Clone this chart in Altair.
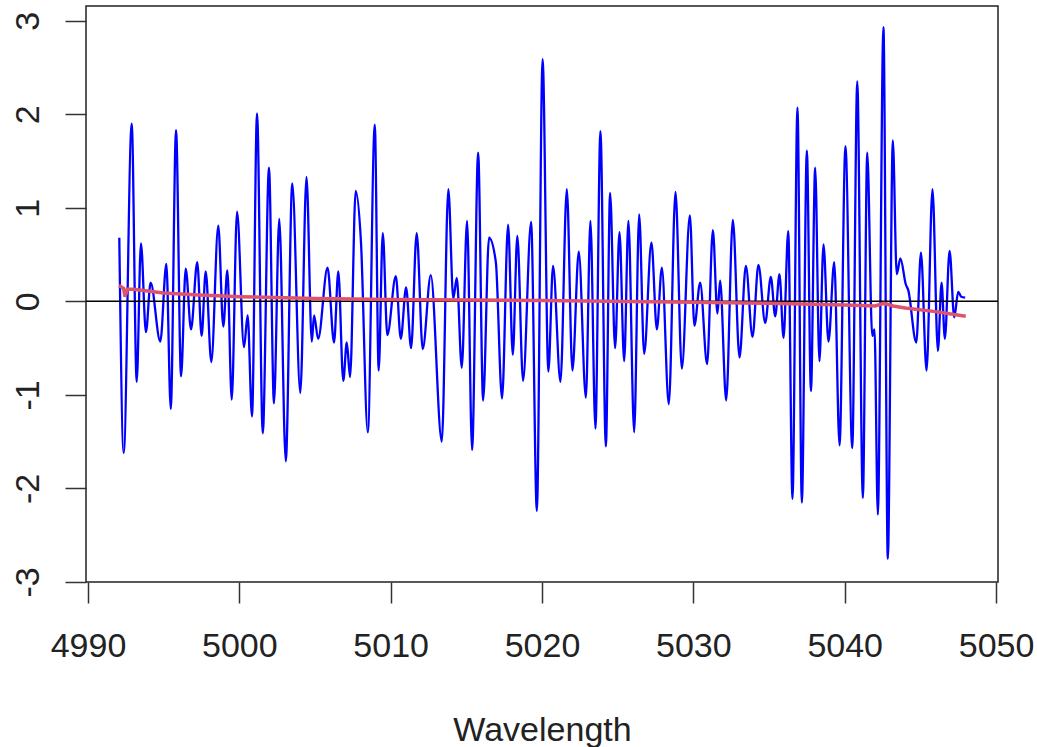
import altair as alt
import pandas as pd

# Blue spectrum: extrema (wavelength, value)
blue_x = [
    4992.07, 4992.36, 4992.89, 4993.22, 4993.50, 4993.83, 4994.14, 4994.78, 4995.18, 4995.47,
    4995.82, 4996.15, 4996.46, 4996.81, 4997.22, 4997.51, 4997.78, 4998.15, 4998.61, 4998.94,
    4999.21, 4999.50, 4999.85, 5000.31, 5000.55, 5000.84, 5001.17, 5001.55, 5001.96, 5002.29,
    5002.64, 5003.07, 5003.50, 5004.03, 5004.44, 5004.79, 5004.94, 5005.21, 5005.83, 5006.26,
    5006.54, 5006.87, 5007.10, 5007.32, 5007.69, 5008.04, 5008.49, 5008.95, 5009.21, 5009.48,
    5009.78, 5010.34, 5010.67, 5011.02, 5011.35, 5011.72, 5012.12, 5012.65, 5013.38, 5013.81,
    5014.14, 5014.37, 5014.70, 5015.05, 5015.38, 5015.78, 5016.11, 5016.50, 5016.95, 5017.36,
    5017.76, 5018.07, 5018.37, 5018.75, 5019.28, 5019.66, 5020.04, 5020.42, 5020.73, 5021.22,
    5021.64, 5022.01, 5022.43, 5022.90, 5023.20, 5023.53, 5023.86, 5024.22, 5024.50, 5024.83,
    5025.12, 5025.43, 5025.71, 5026.09, 5026.42, 5026.75, 5027.23, 5027.59, 5027.92, 5028.38,
    5028.82, 5029.24, 5029.77, 5030.07, 5030.45, 5030.91, 5031.29, 5031.59, 5031.77, 5032.17,
    5032.61, 5033.05, 5033.47, 5033.91, 5034.30, 5034.75, 5035.12, 5035.41, 5035.69, 5035.96,
    5036.27, 5036.55, 5036.88, 5037.17, 5037.50, 5037.77, 5038.05, 5038.33, 5038.60, 5038.93,
    5039.31, 5039.66, 5040.05, 5040.50, 5040.83, 5041.20, 5041.49, 5041.82, 5041.97, 5042.19,
    5042.56, 5042.85, 5043.18, 5043.44, 5043.68, 5044.04, 5044.20, 5044.73, 5045.04, 5045.41,
    5045.80, 5046.16, 5046.40, 5046.62, 5046.93, 5047.24, 5047.50, 5047.70, 5047.96,
]
blue_y = [
    0.68, -1.62, 1.90, -0.86, 0.62, -0.33, 0.20, -0.43, 0.40, -1.15,
    1.83, -0.80, 0.35, -0.30, 0.42, -0.37, 0.32, -0.65, 0.81, -0.27,
    0.33, -1.05, 0.96, -0.49, -0.15, -1.23, 2.01, -1.41, 1.43, -1.09,
    0.88, -1.71, 1.26, -0.98, 1.33, -0.43, -0.15, -0.40, 0.36, -0.44,
    0.32, -0.85, -0.44, -0.81, 1.18, 0.63, -1.40, 1.89, -0.74, 0.73,
    -0.36, 0.27, -0.40, 0.15, -0.50, 0.73, -0.51, 0.28, -1.50, 1.20,
    0.03, 0.25, -0.71, 0.86, -1.59, 1.59, -1.06, 0.68, 0.42, -1.04,
    0.82, -0.57, 0.70, -0.85, 0.85, -2.24, 2.59, -0.75, 0.38, -0.86,
    1.20, -0.74, 0.53, -1.03, 0.86, -1.36, 1.82, -1.55, 1.16, -0.50,
    0.74, -0.64, 0.86, -1.40, 0.93, -0.56, 0.63, -0.30, 0.36, -1.10,
    1.17, -0.72, 0.92, -0.26, 0.20, -0.67, 0.76, -0.13, 0.22, -1.06,
    0.87, -0.60, 0.38, -0.38, 0.39, -0.23, 0.26, -0.16, 0.29, -0.39,
    0.75, -2.11, 2.07, -2.15, 1.61, -0.96, 1.43, -0.64, 0.61, -0.43,
    0.42, -1.54, 1.66, -1.57, 2.35, -2.10, 1.59, -0.37, -0.30, -2.28,
    2.93, -2.75, 1.72, 0.29, 0.46, 0.18, 0.12, -0.44, 0.52, -0.74,
    1.20, -0.53, 0.20, -0.40, 0.54, -0.17, 0.10, 0.05, 0.04,
]

# Red trend line
red_x = [4992.05, 4992.35, 4992.45, 4992.6, 4993.0, 4995.0, 4997.0, 5000.0, 5005.0, 5010.0,
         5020.0, 5030.0, 5035.0, 5040.0, 5042.0, 5042.6, 5043.2, 5044.0, 5046.0, 5048.0]
red_y = [0.17, 0.14, 0.05, 0.13, 0.13, 0.09, 0.07, 0.05, 0.03, 0.02,
         0.01, -0.01, -0.02, -0.04, -0.05, -0.02, -0.05, -0.07, -0.11, -0.16]

x_ticks = [4990, 5000, 5010, 5020, 5030, 5040, 5050]
y_ticks = [-3, -2, -1, 0, 1, 2, 3]

blue = pd.DataFrame({"x": blue_x, "y": blue_y})
red = pd.DataFrame({"x": red_x, "y": red_y})
zero = pd.DataFrame({"y": [0]})

FONT = "Liberation Sans"
xscale = alt.Scale(domain=[4989.87, 5050.13], nice=False, zero=False)
yscale = alt.Scale(domain=[-3, 3.157], nice=False, zero=False)

xaxis = alt.Axis(
    values=x_ticks, title="Wavelength", grid=False, domain=False,
    tickSize=21, tickColor="#333333", tickWidth=1.5,
    labelFont=FONT, labelFontSize=34, labelColor="#222222", labelPadding=26,
    labelFlush=False, labelOverlap=False, labelExpr="'' + datum.value",
    titleFont=FONT, titleFontSize=34, titleFontWeight="normal", titleColor="#222222",
    titleY=158, titleBaseline="alphabetic",
)
yaxis = alt.Axis(
    values=y_ticks, title=None, grid=False, domain=False,
    tickSize=21, tickColor="#333333", tickWidth=1.5,
    labelFont=FONT, labelFontSize=34, labelColor="#222222", labelPadding=27,
    labelAngle=270, labelAlign="center", labelBaseline="alphabetic",
    labelExpr="'' + datum.value", labelOverlap=False,
)

blue_line = alt.Chart(blue).mark_line(
    color="#0000ff", strokeWidth=2.3, interpolate="monotone", clip=True
).encode(
    x=alt.X("x:Q", scale=xscale, axis=xaxis),
    y=alt.Y("y:Q", scale=yscale, axis=yaxis),
)

zero_line = alt.Chart(zero).mark_rule(color="#000000", strokeWidth=1.5).encode(
    y=alt.Y("y:Q", scale=yscale)
)

red_line = alt.Chart(red).mark_line(
    color="#DF536B", strokeWidth=3.5, interpolate="linear"
).encode(
    x=alt.X("x:Q", scale=xscale),
    y=alt.Y("y:Q", scale=yscale),
)

chart = alt.layer(blue_line, zero_line, red_line).properties(
    width=912, height=576,
    autosize=alt.AutoSizeParams(type="none"),
    padding={"left": 86, "top": 6, "right": 39, "bottom": 165},
    background="white",
).configure_view(stroke="#222222", strokeWidth=1.5)

chart.save("out.html", embed_options={"renderer": "svg", "actions": False})
